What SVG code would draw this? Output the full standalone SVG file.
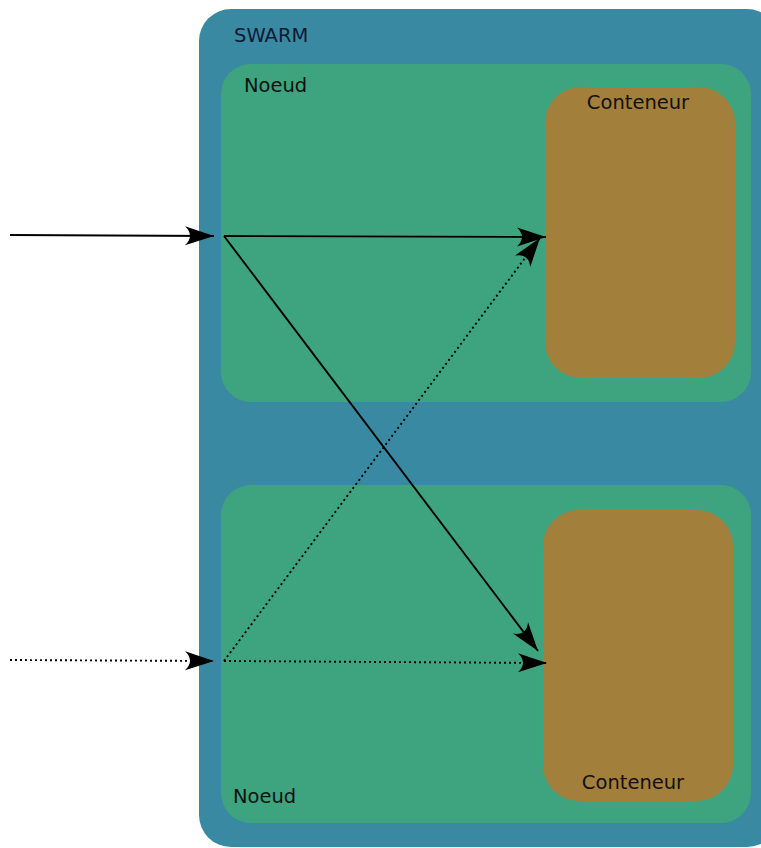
<svg xmlns="http://www.w3.org/2000/svg" width="761" height="848" viewBox="0 0 761 848">
<style>
.lbl{font-family:"DejaVu Sans",sans-serif;font-size:19.5px;fill:#111;}
.swarm{fill:#3a89a3;}
.noeud{fill:#3da47f;}
.cont{fill:#a37f3c;}
.c{fill:none;stroke:#000;stroke-width:1.9;}
.dot{stroke-dasharray:2 3;}
</style>
<defs>
<marker id="ah" viewBox="-31 -11 33 22" refX="0" refY="0" markerWidth="33" markerHeight="22" markerUnits="userSpaceOnUse" orient="auto">
<path d="M0,0 L-29,-9.5 Q-19,0 -29,9.5 Z" fill="#000"/>
</marker>
</defs>
<rect width="761" height="848" fill="#fff"/>
<g id="swarm">
<rect class="swarm" x="199" y="9" width="580" height="838" rx="32"/>
<text class="lbl" x="234" y="42" style="fill:#0d1b33">SWARM</text>
</g>
<g id="noeud1">
<rect class="noeud" x="221" y="64" width="530" height="338" rx="30"/>
<text class="lbl" x="244" y="92">Noeud</text>
</g>
<g id="conteneur1">
<rect class="cont" x="545" y="87" width="190" height="291" rx="36"/>
<text class="lbl" x="638" y="109" text-anchor="middle">Conteneur</text>
</g>
<g id="noeud2">
<rect class="noeud" x="221" y="485" width="530" height="338" rx="30"/>
<text class="lbl" x="233" y="803">Noeud</text>
</g>
<g id="conteneur2">
<rect class="cont" x="543" y="510" width="190" height="291" rx="36"/>
<text class="lbl" x="633" y="789" text-anchor="middle">Conteneur</text>
</g>
<g id="connectors">
<line class="c" x1="10" y1="235" x2="214" y2="236" marker-end="url(#ah)"/>
<line class="c" x1="224" y1="236" x2="546" y2="237" marker-end="url(#ah)"/>
<line class="c" x1="224" y1="236" x2="538" y2="651" marker-end="url(#ah)"/>
<line class="c dot" x1="10" y1="660" x2="214" y2="661" marker-end="url(#ah)"/>
<line class="c dot" x1="224" y1="661" x2="547" y2="663" marker-end="url(#ah)"/>
<line class="c dot" x1="224" y1="661" x2="540" y2="238" marker-end="url(#ah)"/>
</g>
</svg>
